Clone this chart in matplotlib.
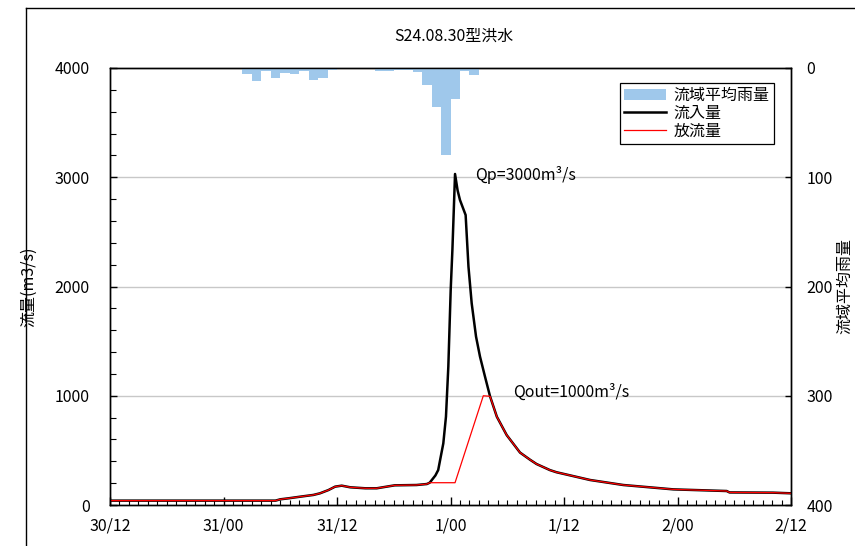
import matplotlib
matplotlib.use("Agg")
import matplotlib.pyplot as plt
from matplotlib.patches import Patch
from matplotlib.lines import Line2D

plt.rcParams['font.family'] = ['Noto Sans CJK JP', 'DejaVu Sans']

# ---- data ----
x_tick_labels = ["30/12", "31/00", "31/12", "1/00", "1/12", "2/00", "2/12"]

rain_hours = [14, 15, 16, 17, 18, 19, 20, 21, 22, 23, 24, 25, 26, 27,
              28, 29, 30, 31, 32, 33, 34, 35, 36, 37, 38, 39, 40]
rain_mm = [5.8, 12.2, 3.1, 9.5, 4.9, 5.8, 3.1, 11.3, 9.5, 1.8, 0.9, 0.9, 0.3, 0.6,
           3.1, 3.1, 2.1, 2.1, 4.0, 15.9, 36.0, 80.0, 28.7, 3.2, 6.7, 0.0, 1.0]

inflow_t = [0, 17.5, 18.0, 18.85, 20.1, 21.5, 22.2, 23.1, 23.8, 24.5, 25.4, 27.0,
            28.2, 29.25, 30.1, 32.4, 33.5, 33.8, 34.4, 34.7, 34.9, 35.24, 35.52,
            35.77, 36.02, 36.2, 36.48, 36.75, 37.0, 37.6, 37.9, 38.24, 38.7, 39.12,
            39.65, 40.18, 40.9, 41.94, 43.35, 44.4, 45.1, 46.5, 47.2, 50.75, 54.27,
            59.56, 65.2, 65.5, 70.1, 72.0]
inflow_q = [40, 40, 52, 61, 76, 92, 107, 137, 168, 177, 162, 153,
            153, 168, 180, 183, 192, 204, 270, 320, 411, 564, 808,
            1266, 1968, 2334, 3030, 2880, 2792, 2654, 2181, 1846, 1541, 1358,
            1174, 995, 808, 640, 480, 415, 375, 320, 300, 229, 183,
            143, 128, 115, 113, 107]

outflow_t = [0, 17.5, 18.0, 18.85, 20.1, 21.5, 22.2, 23.1, 23.8, 24.5, 25.4, 27.0,
             28.2, 29.25, 30.1, 32.4, 33.5, 33.8, 36.48, 39.47, 40.18, 40.9,
             41.94, 43.35, 44.4, 45.1, 46.5, 47.2, 50.75, 54.27, 59.56, 65.2,
             65.5, 70.1, 72.0]
outflow_q = [40, 40, 52, 61, 76, 92, 107, 137, 168, 177, 162, 153,
             153, 168, 180, 183, 192, 204, 204, 1000, 995, 808,
             640, 480, 415, 375, 320, 300, 229, 183, 143, 128,
             115, 113, 107]

title = "S24.08.30型洪水"
qp_label = "Qp=3000m³/s"
qout_label = "Qout=1000m³/s"

# ---- figure ----
W, H = 855, 546
fig = plt.figure(figsize=(W / 100, H / 100), dpi=100)
L, R, T, B = 110, 791, 68, 505
ax = fig.add_axes([L / W, 1 - B / H, (R - L) / W, (B - T) / H])

fs = 11.5

# outer frame
fig.add_artist(Line2D([26 / W, 26 / W], [0, 1 - 8 / H], color='black', lw=1.0,
                      transform=fig.transFigure))
fig.add_artist(Line2D([26 / W, 1], [1 - 8 / H, 1 - 8 / H], color='black', lw=1.0,
                      transform=fig.transFigure))

ax.set_xlim(0, 72)
ax.set_ylim(0, 4000)
ax.set_xticks(range(0, 73, 12))
ax.set_xticklabels(x_tick_labels, fontsize=fs)
ax.set_xticks(range(0, 73, 1), minor=True)
ax.set_yticks([0, 1000, 2000, 3000, 4000])
ax.set_yticklabels(["0", "1000", "2000", "3000", "4000"], fontsize=fs)
ax.set_yticks(range(0, 4001, 200), minor=True)
ax.tick_params(axis='x', which='major', direction='in', length=6, width=1, pad=9)
ax.tick_params(axis='x', which='minor', direction='in', length=3.5, width=0.8)
ax.tick_params(axis='y', which='major', direction='in', length=5, width=1, pad=14.5)
ax.tick_params(axis='y', which='minor', direction='in', length=4, width=0.8)
for y in [1000, 2000, 3000]:
    ax.axhline(y, color='#c8c8c8', lw=1.0, zorder=0.5)
for s in ax.spines.values():
    s.set_linewidth(1.0)
    s.set_color('black')

ax.plot(inflow_t, inflow_q, color='black', lw=1.8, zorder=2)
ax.plot(outflow_t, outflow_q, color='#ff0000', lw=0.9, zorder=3)

ax.set_ylabel("流量(m3/s)", fontsize=fs)
ax.yaxis.set_label_coords((37 - L) / (R - L), 0.5)

ax.text(38.6, 3020, qp_label, fontsize=fs, va='center', ha='left')
ax.text(42.6, 1037, qout_label, fontsize=fs, va='center', ha='left')

# rain axis
ax2 = ax.twinx()
ax2.set_ylim(400, 0)
ax2.bar(rain_hours, rain_mm, width=1.0, align='edge', color='#9fc8eb', edgecolor='none',
        zorder=1)
ax2.set_yticks([0, 100, 200, 300, 400])
ax2.set_yticklabels(["0", "100", "200", "300", "400"], fontsize=fs)
ax2.tick_params(axis='y', direction='in', length=4, width=1, pad=11)
for s in ax2.spines.values():
    s.set_linewidth(1.0)
    s.set_color('black')

fig.text(845 / W, 1 - 286 / H, "流域平均雨量", fontsize=fs, rotation=90,
         ha='center', va='center')

handles = [Patch(facecolor='#9fc8eb', edgecolor='none'),
           Line2D([], [], color='black', lw=1.8),
           Line2D([], [], color='#ff0000', lw=0.9)]
leg = ax2.legend(handles, ["流域平均雨量", "流入量", "放流量"], fontsize=fs,
                 loc='upper left', bbox_to_anchor=((620 - L) / (R - L), 1 - (83 - T) / (B - T)),
                 frameon=True, fancybox=False, edgecolor='black', framealpha=1,
                 borderpad=0.25, labelspacing=0.05, handlelength=2.6, handletextpad=0.5,
                 borderaxespad=0)
leg.get_frame().set_linewidth(0.9)

fig.text(454 / W, 1 - 36 / H, title, fontsize=fs, ha='center', va='center')

fig.savefig("out.png", dpi=100)
